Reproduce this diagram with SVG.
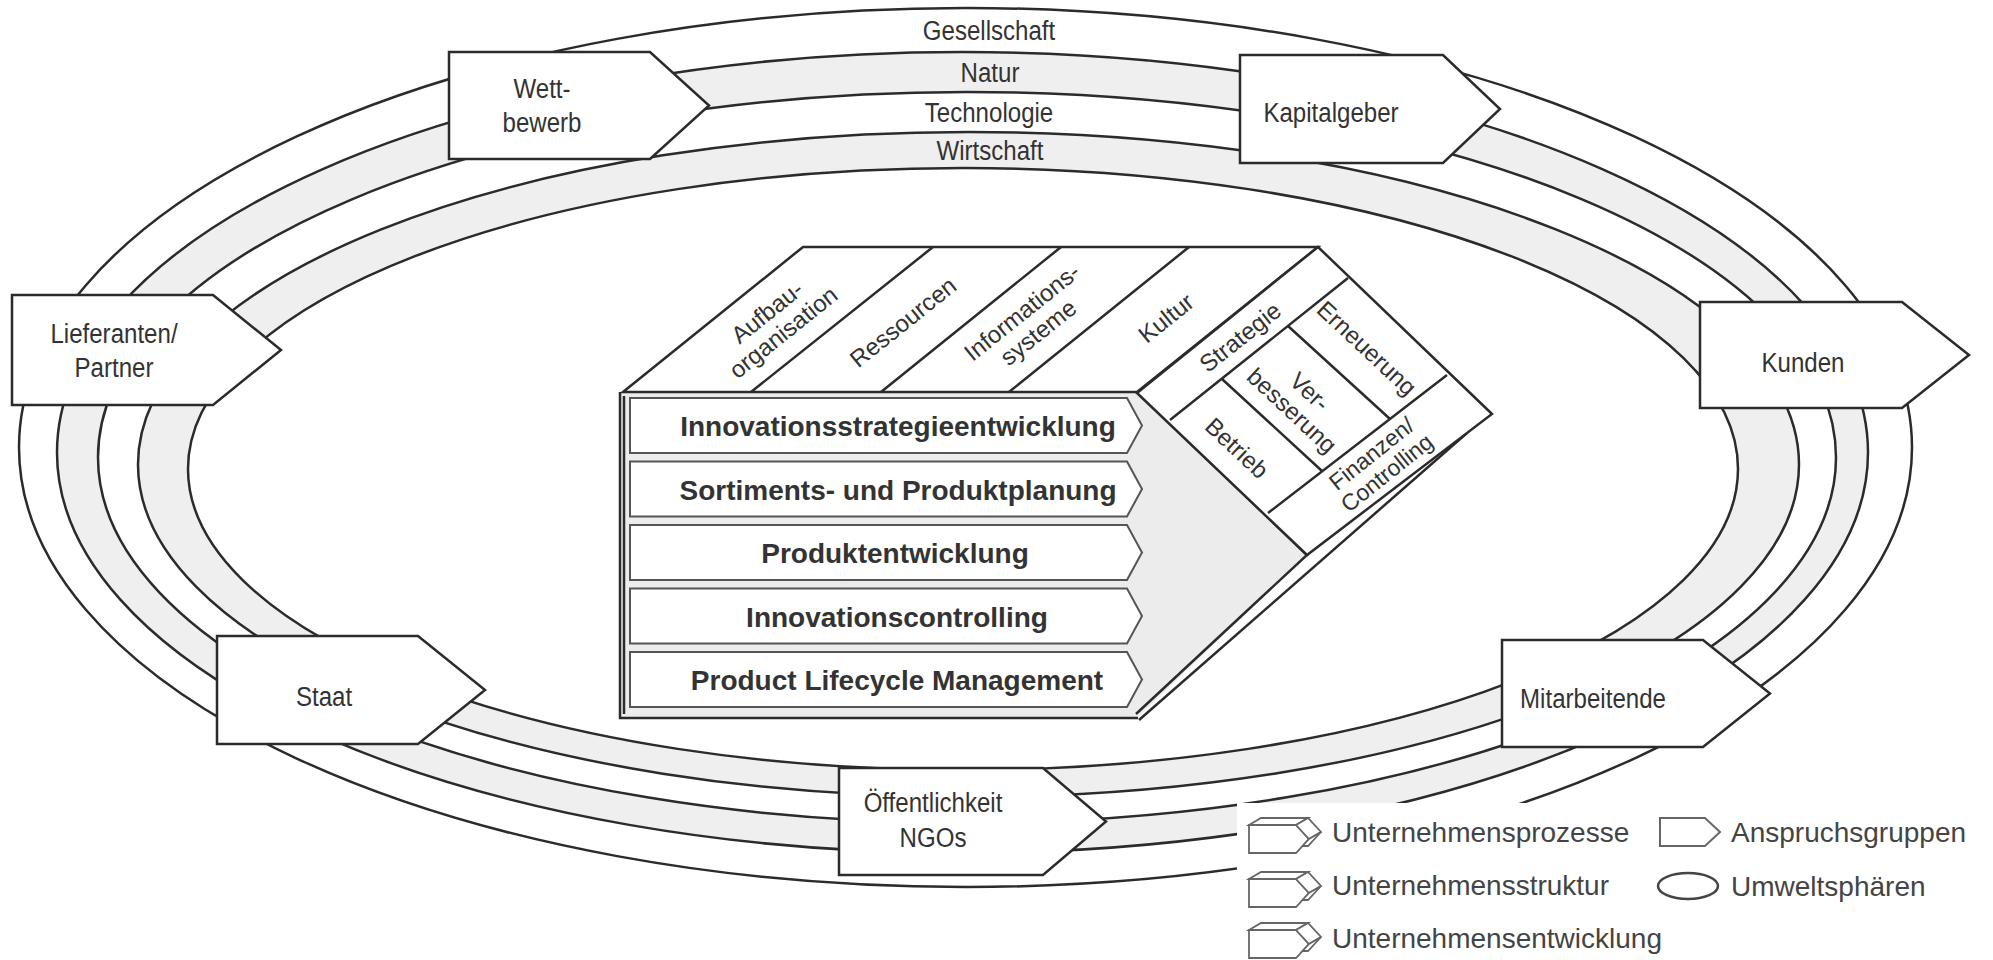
<svg xmlns="http://www.w3.org/2000/svg" width="1993" height="960" viewBox="0 0 1993 960">
<style>
.sph{stroke:#2b2b2b;stroke-width:2.5}
.gb{fill:#efefef}
.wb{fill:#ffffff}
.ag{fill:#ffffff;stroke:#2b2b2b;stroke-width:2.5;stroke-linejoin:miter}
.ln{fill:none;stroke:#2b2b2b;stroke-width:2.5}
.face{fill:#ffffff;stroke:#2b2b2b;stroke-width:2.5;stroke-linejoin:miter}
.proc{fill:#ffffff;stroke:#555555;stroke-width:2}
.lab{font-family:"Liberation Sans",Arial,sans-serif;font-size:28px;fill:#333333;text-anchor:middle}
.pt{font-family:"Liberation Sans",Arial,sans-serif;font-size:28px;font-weight:bold;fill:#333333;text-anchor:middle}
.ct{font-family:"Liberation Sans",Arial,sans-serif;font-size:24px;fill:#333333;text-anchor:middle}
.lg{font-family:"Liberation Sans",Arial,sans-serif;font-size:28px;fill:#444444}
.ico{fill:#ffffff;stroke:#666666;stroke-width:1.8;stroke-linejoin:miter}
</style>
<defs>
<g id="procIcon">
<path class="ico" d="M0,7 H47 L60,21 L47,35 H0 Z"/>
<path class="ico" d="M0,7 L12,0 H59 L47,7 Z"/>
<path class="ico" d="M47,7 L59,0 L72,14 L60,21 Z"/>
<path class="ico" d="M60,21 L72,14 L59,28 L53.5,28 Z"/>
</g>
</defs>
<rect x="0" y="0" width="1993" height="960" fill="#ffffff"/>

<g id="umweltsphaeren">
<ellipse class="sph wb" cx="965.5" cy="447.5" rx="946.5" ry="439.5"/>
<ellipse class="sph gb" cx="962.5" cy="452.5" rx="905.5" ry="400.5"/>
<ellipse class="sph wb" cx="967" cy="457.5" rx="869" ry="365.5"/>
<ellipse class="sph gb" cx="968.5" cy="464.5" rx="830.5" ry="332.5"/>
<ellipse class="sph wb" cx="963" cy="469" rx="775" ry="301"/>
<text class="lab" transform="translate(989,40) scale(0.86,1)">Gesellschaft</text>
<text class="lab" transform="translate(990,82) scale(0.86,1)">Natur</text>
<text class="lab" transform="translate(989,122) scale(0.86,1)">Technologie</text>
<text class="lab" transform="translate(990,160) scale(0.86,1)">Wirtschaft</text>
</g>

<g id="cube">
<g id="cube-body">
<path d="M620,392 H1137 L1307,555 L1137,718 H620 Z" fill="#ececec" stroke="none"/>
<path class="ln" d="M620,392 V718 H1138"/>
<path class="ln" d="M624,396 V714" stroke-width="1.5"/>
<path class="ln" d="M1137,392 L1307,555 L1136,714"/>
<path class="ln" d="M1467,433 L1139,720"/>
</g>
<g id="unternehmensprozesse">
<path class="proc" d="M630,398 H1127 L1142,425.5 L1127,453 H630 Z"/>
<text class="pt" x="898" y="436">Innovationsstrategieentwicklung</text>
<path class="proc" d="M630,461.5 H1127 L1142,489 L1127,516.5 H630 Z"/>
<text class="pt" x="898" y="499.5">Sortiments- und Produktplanung</text>
<path class="proc" d="M630,525 H1127 L1142,552.5 L1127,580 H630 Z"/>
<text class="pt" x="895" y="563">Produktentwicklung</text>
<path class="proc" d="M630,588.5 H1127 L1142,616 L1127,643.5 H630 Z"/>
<text class="pt" x="897" y="626.5">Innovationscontrolling</text>
<path class="proc" d="M630,652 H1127 L1142,679.5 L1127,707 H630 Z"/>
<text class="pt" x="897" y="690">Product Lifecycle Management</text>
</g>
<g id="unternehmensstruktur">
<path class="face" d="M623,392 L803,247 H1318 L1137,392 Z"/>
<path class="ln" d="M751,392 L933,247 M881,392 L1061,247 M1009,392 L1189,247"/>
<text class="ct" transform="translate(775,322) rotate(-38.7)"><tspan x="0" y="-4.5">Aufbau-</tspan><tspan x="0" y="21.5">organisation</tspan></text>
<text class="ct" transform="translate(903,322) rotate(-38.7)" x="0" y="8.5">Ressourcen</text>
<text class="ct" transform="translate(1030,322) rotate(-38.7)"><tspan x="0" y="-4.5">Informations-</tspan><tspan x="0" y="21.5">systeme</tspan></text>
<text class="ct" transform="translate(1166,318) rotate(-38.7)" x="0" y="8.5">Kultur</text>
</g>
<g id="unternehmensentwicklung">
<path class="face" d="M1137,393 L1318,247 L1492,414 L1307,555 Z"/>
<path class="ln" d="M1170,420 L1348,278 M1268,513 L1447,375 M1222,379 L1322,471 M1288,326 L1390,419"/>
<text class="ct" transform="translate(1240,337) rotate(-38.6)" x="0" y="8.5">Strategie</text>
<text class="ct" transform="translate(1367,348) rotate(43)" x="0" y="8.5">Erneuerung</text>
<text class="ct" transform="translate(1301,401) rotate(43)"><tspan x="0" y="-4.5">Ver-</tspan><tspan x="0" y="21.5">besserung</tspan></text>
<text class="ct" transform="translate(1237,448) rotate(43)" x="0" y="8.5">Betrieb</text>
<text class="ct" transform="translate(1379,463) rotate(-38.6)" style="font-size:23px"><tspan x="0" y="-4">Finanzen/</tspan><tspan x="0" y="20.5">Controlling</tspan></text>
</g>
</g>

<g id="legende">
<rect x="1237" y="803" width="756" height="157" fill="#ffffff"/>
<use href="#procIcon" x="1249" y="818"/>
<text class="lg" x="1332" y="842">Unternehmensprozesse</text>
<use href="#procIcon" x="1249" y="872"/>
<text class="lg" x="1332" y="895">Unternehmensstruktur</text>
<use href="#procIcon" x="1249" y="923"/>
<text class="lg" x="1332" y="948">Unternehmensentwicklung</text>
<path d="M1660,818 H1705 L1720,832 L1705,846 H1660 Z" fill="#ffffff" stroke="#666666" stroke-width="2"/>
<text class="lg" x="1731" y="842">Anspruchsgruppen</text>
<ellipse cx="1688" cy="886" rx="30" ry="13" fill="#ffffff" stroke="#444444" stroke-width="2.5"/>
<text class="lg" x="1731" y="896">Umweltsphären</text>
</g>

<g id="wettbewerb">
<path class="ag" d="M449,52 H650 L709,105.5 L650,159 H449 Z"/>
<text class="lab" transform="translate(542,98) scale(0.86,1)">Wett-</text>
<text class="lab" transform="translate(542,132) scale(0.86,1)">bewerb</text>
</g>
<g id="kapitalgeber">
<path class="ag" d="M1240,55 H1443 L1500,109 L1443,163 H1240 Z"/>
<text class="lab" transform="translate(1331,122) scale(0.86,1)">Kapitalgeber</text>
</g>
<g id="lieferanten">
<path class="ag" d="M12,295 H213 L281,350 L213,405 H12 Z"/>
<text class="lab" transform="translate(114,343) scale(0.86,1)">Lieferanten/</text>
<text class="lab" transform="translate(114,377) scale(0.86,1)">Partner</text>
</g>
<g id="kunden">
<path class="ag" d="M1700,302 H1902 L1969,355 L1902,408 H1700 Z"/>
<text class="lab" transform="translate(1803,372) scale(0.86,1)">Kunden</text>
</g>
<g id="staat">
<path class="ag" d="M217,636 H418 L485,690 L418,744 H217 Z"/>
<text class="lab" transform="translate(324,706) scale(0.86,1)">Staat</text>
</g>
<g id="oeffentlichkeit">
<path class="ag" d="M839,768 H1043 L1106,821.5 L1043,875 H839 Z"/>
<text class="lab" transform="translate(933,812) scale(0.86,1)">Öffentlichkeit</text>
<text class="lab" transform="translate(933,847) scale(0.86,1)">NGOs</text>
</g>
<g id="mitarbeitende">
<path class="ag" d="M1502,640 H1703 L1770,693.5 L1703,747 H1502 Z"/>
<text class="lab" transform="translate(1593,708) scale(0.86,1)">Mitarbeitende</text>
</g>
</svg>
